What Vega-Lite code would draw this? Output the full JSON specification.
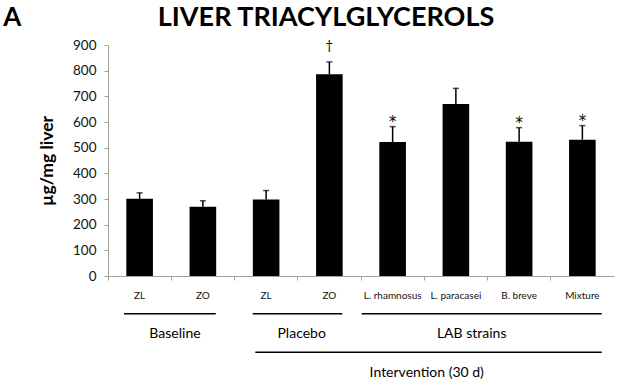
{
  "$schema": "https://vega.github.io/schema/vega-lite/v6.json",
  "width": 506,
  "height": 231,
  "autosize": {"type": "none"},
  "padding": {"left": 108, "top": 45, "right": 6, "bottom": 109},
  "background": "white",
  "config": {
    "view": {"stroke": null},
    "font": "Lato",
    "axis": {"grid": false},
    "axisY": {"tickCount": 10}
  },
  "datasets": {
    "bars": [
      {"id": "Baseline|ZL", "v": 301, "hi": 324, "sig": ""},
      {"id": "Baseline|ZO", "v": 270, "hi": 293, "sig": ""},
      {"id": "Placebo|ZL", "v": 298, "hi": 333, "sig": ""},
      {"id": "Placebo|ZO", "v": 786, "hi": 834, "sig": "†"},
      {"id": "LAB|L. rhamnosus", "v": 522, "hi": 582, "sig": "*"},
      {"id": "LAB|L. paracasei", "v": 670, "hi": 731, "sig": ""},
      {"id": "LAB|B. breve", "v": 523, "hi": 578, "sig": "*"},
      {"id": "LAB|Mixture", "v": 531, "hi": 586, "sig": "*"}
    ],
    "lines": [
      {"x": 0.253, "x2": 1.703, "y": -147},
      {"x": 2.288, "x2": 3.704, "y": -147},
      {"x": 4.011, "x2": 7.806, "y": -147},
      {"x": 2.329, "x2": 7.806, "y": -297}
    ],
    "labels": [
      {"x": 1.059, "y": -227, "t": "Baseline"},
      {"x": 3.062, "y": -227, "t": "Placebo"},
      {"x": 5.75, "y": -227, "t": "LAB strains"},
      {"x": 5.039, "y": -377, "t": "Intervention (30 d)"}
    ],
    "heads": [
      {"x": -1.513, "y": 1006, "t": "A", "s": 26},
      {"x": 3.447, "y": 1006, "t": "LIVER TRIACYLGLYCEROLS", "s": 27}
    ]
  },
  "layer": [
    {
      "data": {"name": "bars"},
      "layer": [
        {
          "mark": {"type": "bar", "color": "#000", "size": 26.6},
          "encoding": {
            "x": {
              "field": "id", "type": "nominal", "sort": null,
              "scale": {"paddingInner": 0, "paddingOuter": 0},
              "axis": {
                "title": null,
                "labelExpr": "split(datum.value, '|')[1]",
                "labelAngle": 0,
                "labelFontSize": 10,
                "labelColor": "#111",
                "labelFont": "Lato",
                "bandPosition": 0,
                "labelPadding": 10,
                "tickSize": 4,
                "tickColor": "#a0a0a0",
                "domainColor": "#a0a0a0",
                "domainWidth": 1
              }
            },
            "y": {
              "field": "v", "type": "quantitative",
              "scale": {"domain": [0, 900], "nice": false},
              "axis": {
                "title": "µg/mg liver",
                "titleFont": "Lato",
                "titleFontSize": 17.5,
                "titleFontWeight": "bold",
                "titleColor": "#000",
                "titlePadding": 16,
                "values": [0, 100, 200, 300, 400, 500, 600, 700, 800, 900],
                "labelFontSize": 13.5,
                "labelColor": "#111",
                "labelPadding": 8,
                "tickSize": 4,
                "tickColor": "#a0a0a0",
                "domainColor": "#a0a0a0"
              }
            }
          }
        },
        {
          "mark": {"type": "rule", "color": "#000", "strokeWidth": 1.5},
          "encoding": {
            "x": {"field": "id", "type": "nominal", "sort": null},
            "y": {"field": "v", "type": "quantitative"},
            "y2": {"field": "hi"}
          }
        },
        {
          "mark": {"type": "tick", "color": "#000", "size": 6, "thickness": 1.5, "orient": "horizontal"},
          "encoding": {
            "x": {"field": "id", "type": "nominal", "sort": null},
            "y": {"field": "hi", "type": "quantitative"}
          }
        },
        {
          "transform": [{"filter": "datum.sig == '*'"}],
          "mark": {"type": "text", "fontSize": 15, "font": "DejaVu Sans", "color": "#000", "baseline": "alphabetic", "dy": 0},
          "encoding": {
            "x": {"field": "id", "type": "nominal", "sort": null},
            "y": {"field": "hi", "type": "quantitative"},
            "text": {"field": "sig"}
          }
        },
        {
          "transform": [{"filter": "datum.sig == '†'"}],
          "mark": {"type": "text", "fontSize": 13, "color": "#000", "baseline": "alphabetic", "dy": -12},
          "encoding": {
            "x": {"field": "id", "type": "nominal", "sort": null},
            "y": {"field": "hi", "type": "quantitative"},
            "text": {"field": "sig"}
          }
        }
      ]
    },
    {
      "layer": [
        {
          "data": {"name": "lines"},
          "mark": {"type": "rule", "color": "#000", "strokeWidth": 1.3},
          "encoding": {
            "x": {"field": "x", "type": "quantitative", "scale": {"domain": [0, 8], "nice": false, "zero": false}, "axis": null},
            "x2": {"field": "x2"},
            "y": {"field": "y", "type": "quantitative"}
          }
        },
        {
          "data": {"name": "labels"},
          "mark": {"type": "text", "fontSize": 14, "color": "#000", "baseline": "middle", "font": "Lato"},
          "encoding": {
            "x": {"field": "x", "type": "quantitative", "scale": {"domain": [0, 8], "nice": false, "zero": false}, "axis": null},
            "y": {"field": "y", "type": "quantitative"},
            "text": {"field": "t"}
          }
        },
        {
          "data": {"name": "heads"},
          "mark": {"type": "text", "fontWeight": "bold", "color": "#000", "baseline": "middle", "font": "Lato"},
          "encoding": {
            "x": {"field": "x", "type": "quantitative", "scale": {"domain": [0, 8], "nice": false, "zero": false}, "axis": null},
            "y": {"field": "y", "type": "quantitative"},
            "text": {"field": "t"},
            "size": {"field": "s", "type": "quantitative", "scale": null}
          }
        }
      ]
    }
  ],
  "resolve": {"scale": {"x": "independent"}}
}
